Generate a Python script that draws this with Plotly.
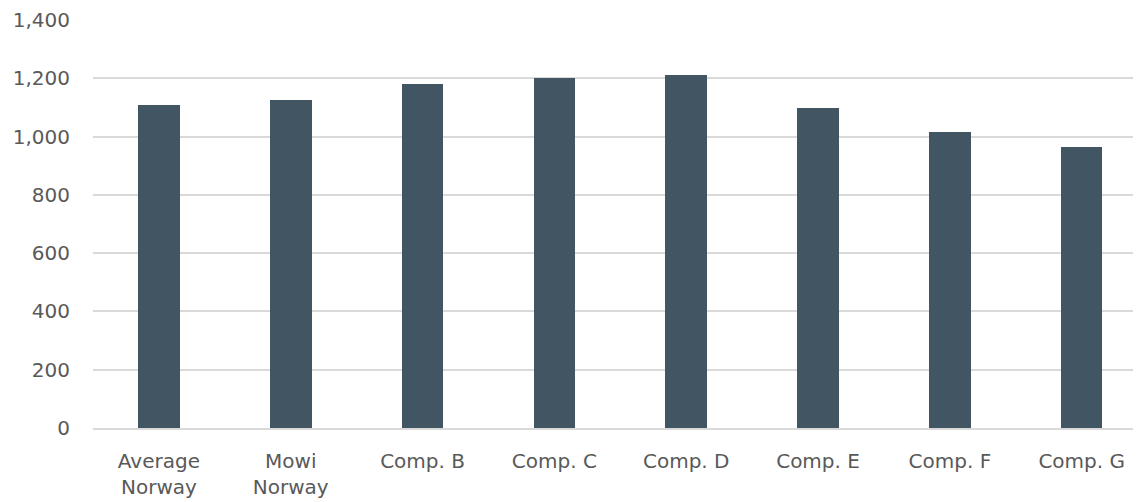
import plotly.graph_objects as go

categories = ["Average<br>Norway", "Mowi<br>Norway", "Comp. B", "Comp. C", "Comp. D", "Comp. E", "Comp. F", "Comp. G"]
values = [1110, 1127, 1181, 1201, 1212, 1099, 1016, 963]
y_ticks = [0, 200, 400, 600, 800, 1000, 1200, 1400]
y_tick_labels = ["0", "200", "400", "600", "800", "1,000", "1,200", "1,400"]

fig = go.Figure(go.Bar(
    x=list(range(len(categories))),
    y=values,
    width=0.315,
    marker=dict(color="#425563", line=dict(width=0)),
))

tick_font = dict(family="'DejaVu Sans', sans-serif", size=20, color="#595959")

# page body has an 8px default margin, so the figure is sized to fit inside it
fig.update_layout(
    width=1133, height=494,
    margin=dict(l=85, r=0, t=12, b=74, autoexpand=False),
    paper_bgcolor="white", plot_bgcolor="white",
    font=tick_font,
    showlegend=False,
    bargap=0,
)
fig.update_xaxes(
    range=[-0.5, 7.45], automargin=False,
    tickmode="array", tickvals=list(range(len(categories))), ticktext=categories,
    tickfont=tick_font,
    showgrid=False, zeroline=False, showline=True, linecolor="#d9d9d9", linewidth=1.5,
    ticks="", ticklabelstandoff=14,
)
fig.update_yaxes(
    range=[0, 1400], automargin=False,
    tickmode="array", tickvals=y_ticks, ticktext=y_tick_labels,
    tickfont=tick_font,
    showgrid=True, gridcolor="#d9d9d9", gridwidth=1.5,
    zeroline=False, showline=False, ticks="", ticklabelstandoff=22,
)

fig.write_html("out.html")
